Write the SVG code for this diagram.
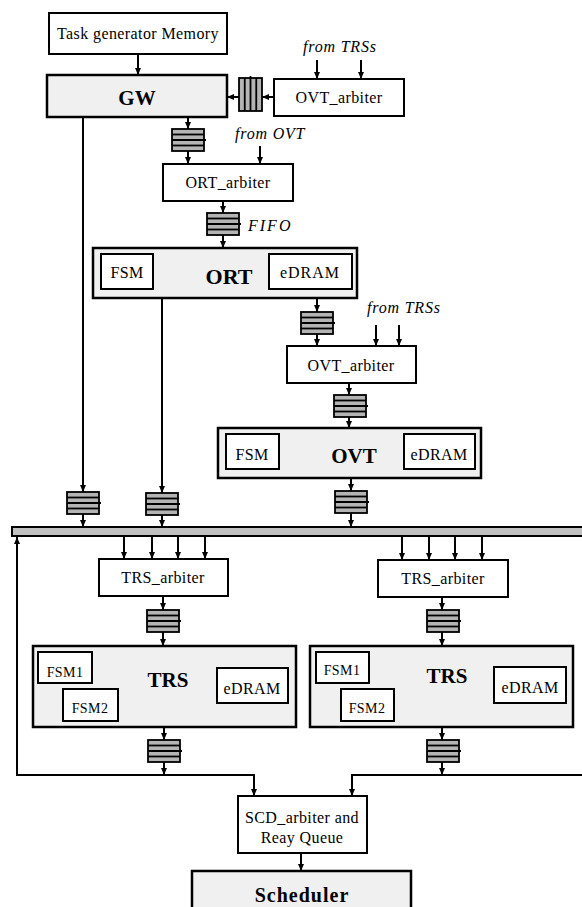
<svg xmlns="http://www.w3.org/2000/svg" xmlns:xlink="http://www.w3.org/1999/xlink" width="582" height="907" viewBox="0 0 582 907">
<style>
.box{fill:#fff;stroke:#000;stroke-width:2}
.big{fill:#f0f0f0;stroke:#000;stroke-width:2.5}
.t{font-family:"Liberation Serif","Times New Roman",serif;font-size:16px;fill:#000;text-anchor:middle;letter-spacing:0.4px}
.s{font-size:14px}
.b{font-weight:bold;font-size:21px;letter-spacing:0}
.i{font-style:italic;text-anchor:start;letter-spacing:0.8px}
.ln{fill:none;stroke:#000;stroke-width:2}
.ar{fill:none;stroke:#000;stroke-width:2;marker-end:url(#ah)}
.ff{fill:#b4b4b4;stroke:#000;stroke-width:1.8}
.fl{stroke:#000;stroke-width:1.8}
</style>
<defs>
<marker id="ah" markerUnits="userSpaceOnUse" markerWidth="7" markerHeight="7" refX="7" refY="3.5" orient="auto">
<path d="M0,0.5 L7,3.5 L0,6.5 z" fill="#000"/>
</marker>
<g id="fifoH">
<rect class="ff" x="0" y="0" width="32" height="22"/>
<line class="fl" x1="0" y1="5.5" x2="32" y2="5.5"/>
<line class="fl" x1="0" y1="11" x2="34" y2="11"/>
<line class="fl" x1="0" y1="16.5" x2="32" y2="16.5"/>
</g>
<g id="fifoV">
<rect class="ff" x="0" y="0" width="23" height="33"/>
<line class="fl" x1="5.75" y1="0" x2="5.75" y2="33"/>
<line class="fl" x1="11.5" y1="-2" x2="11.5" y2="33"/>
<line class="fl" x1="17.25" y1="0" x2="17.25" y2="33"/>
</g>
</defs>

<g id="connectors">
<line class="ar" x1="138" y1="54" x2="138" y2="75"/>
<line class="ar" x1="274" y1="97" x2="262" y2="97"/>
<line class="ar" x1="239" y1="97" x2="227" y2="97"/>
<line class="ar" x1="317" y1="60" x2="317" y2="79"/>
<line class="ar" x1="361" y1="60" x2="361" y2="79"/>
<line class="ar" x1="188" y1="117" x2="188" y2="129"/>
<line class="ar" x1="188" y1="151" x2="188" y2="164"/>
<line class="ar" x1="260" y1="146" x2="260" y2="164"/>
<line class="ar" x1="223" y1="201" x2="223" y2="213"/>
<line class="ar" x1="223" y1="235" x2="223" y2="248"/>
<line class="ar" x1="83" y1="117" x2="83" y2="492"/>
<line class="ar" x1="83" y1="513" x2="83" y2="527"/>
<line class="ar" x1="162" y1="298" x2="162" y2="493"/>
<line class="ar" x1="162" y1="514" x2="162" y2="527"/>
<line class="ar" x1="317" y1="298" x2="317" y2="312"/>
<line class="ar" x1="317" y1="334" x2="317" y2="346"/>
<line class="ar" x1="376" y1="325" x2="376" y2="346"/>
<line class="ar" x1="399" y1="325" x2="399" y2="346"/>
<line class="ar" x1="349" y1="383" x2="349" y2="395"/>
<line class="ar" x1="349" y1="417" x2="349" y2="428"/>
<line class="ar" x1="351" y1="479" x2="351" y2="491"/>
<line class="ar" x1="351" y1="513" x2="351" y2="527"/>
<line class="ar" x1="124" y1="536" x2="124" y2="559"/>
<line class="ar" x1="152" y1="536" x2="152" y2="559"/>
<line class="ar" x1="178" y1="536" x2="178" y2="559"/>
<line class="ar" x1="205" y1="536" x2="205" y2="559"/>
<line class="ar" x1="402" y1="536" x2="402" y2="560"/>
<line class="ar" x1="429" y1="536" x2="429" y2="560"/>
<line class="ar" x1="455" y1="536" x2="455" y2="560"/>
<line class="ar" x1="482" y1="536" x2="482" y2="560"/>
<line class="ar" x1="163" y1="596" x2="163" y2="610"/>
<line class="ar" x1="163" y1="632" x2="163" y2="646"/>
<line class="ar" x1="442" y1="597" x2="442" y2="610"/>
<line class="ar" x1="442" y1="632" x2="442" y2="646"/>
<line class="ar" x1="164" y1="727" x2="164" y2="740"/>
<line class="ar" x1="164" y1="762" x2="164" y2="775"/>
<line class="ar" x1="442" y1="727" x2="442" y2="740"/>
<line class="ar" x1="442" y1="762" x2="442" y2="775"/>
<polyline class="ar" points="254,775 17,775 17,537"/>
<polyline class="ar" points="17,775 254,775 254,796"/>
<polyline class="ar" points="582,775 352,775 352,796"/>
<line class="ar" x1="301" y1="853" x2="301" y2="871"/>
<use href="#fifoV" x="239" y="78"/>
<use href="#fifoH" x="172" y="129"/>
<use href="#fifoH" x="207" y="213"/>
<use href="#fifoH" x="67" y="492"/>
<use href="#fifoH" x="146" y="493"/>
<use href="#fifoH" x="301" y="312"/>
<use href="#fifoH" x="334" y="395"/>
<use href="#fifoH" x="335" y="491"/>
<use href="#fifoH" x="147" y="610"/>
<use href="#fifoH" x="427" y="610"/>
<use href="#fifoH" x="148" y="740"/>
<use href="#fifoH" x="427" y="740"/>
<rect x="12" y="527" width="580" height="9" fill="#c0c0c0" stroke="#000" stroke-width="2"/>
<text class="t i" x="303" y="52">from TRSs</text>
<text class="t i" x="235" y="139">from OVT</text>
<text class="t i" x="248" y="231" style="letter-spacing:2px">FIFO</text>
<text class="t i" x="367" y="313">from TRSs</text>
</g>

<g id="taskgen">
<rect class="box" x="49" y="13" width="178" height="41"/>
<text class="t" x="138" y="39">Task generator Memory</text>
</g>
<g id="gw">
<rect class="big" x="47" y="75" width="180" height="42"/>
<text class="t b" x="137" y="105">GW</text>
</g>
<g id="ovt_arbiter_top">
<rect class="box" x="274" y="79" width="130" height="37"/>
<text class="t" x="339" y="103">OVT_arbiter</text>
</g>
<g id="ort_arbiter">
<rect class="box" x="163" y="164" width="130" height="37"/>
<text class="t" x="228" y="188">ORT_arbiter</text>
</g>
<g id="ort">
<rect class="big" x="93" y="248" width="264" height="50"/>
<rect class="box" x="101" y="254" width="52" height="35"/>
<rect class="box" x="269" y="254" width="83" height="35"/>
<text class="t" x="127" y="278">FSM</text>
<text class="t" x="310" y="278" style="letter-spacing:1px">eDRAM</text>
<text class="t b" x="229" y="284" style="font-size:22px">ORT</text>
</g>
<g id="ovt_arbiter">
<rect class="box" x="287" y="346" width="129" height="37"/>
<text class="t" x="351" y="371">OVT_arbiter</text>
</g>
<g id="ovt">
<rect class="big" x="218" y="428" width="263" height="50"/>
<rect class="box" x="226" y="434" width="53" height="35"/>
<rect class="box" x="404" y="434" width="71" height="35"/>
<text class="t" x="252" y="460">FSM</text>
<text class="t" x="439" y="460">eDRAM</text>
<text class="t b" x="354" y="463">OVT</text>
</g>
<g id="trs_arbiter_l">
<rect class="box" x="99" y="559" width="129" height="37"/>
<text class="t" x="163" y="583">TRS_arbiter</text>
</g>
<g id="trs_arbiter_r">
<rect class="box" x="378" y="560" width="130" height="37"/>
<text class="t" x="443" y="584">TRS_arbiter</text>
</g>
<g id="trs_l">
<rect class="big" x="33" y="646" width="263" height="81"/>
<rect class="box" x="38" y="652" width="54" height="31"/>
<rect class="box" x="63" y="689" width="55" height="32"/>
<rect class="box" x="217" y="668" width="71" height="35"/>
<text class="t s" x="65" y="677">FSM1</text>
<text class="t s" x="90" y="713">FSM2</text>
<text class="t" x="252" y="694">eDRAM</text>
<text class="t b" x="168" y="687">TRS</text>
</g>
<g id="trs_r">
<rect class="big" x="310" y="646" width="263" height="81"/>
<rect class="box" x="316" y="652" width="53" height="31"/>
<rect class="box" x="341" y="689" width="53" height="32"/>
<rect class="box" x="494" y="667" width="72" height="36"/>
<text class="t s" x="342" y="675">FSM1</text>
<text class="t s" x="367" y="713">FSM2</text>
<text class="t" x="530" y="693">eDRAM</text>
<text class="t b" x="447" y="683">TRS</text>
</g>
<g id="scd_arbiter">
<rect class="box" x="238" y="796" width="129" height="57"/>
<text class="t" x="302" y="823">SCD_arbiter and</text>
<text class="t" x="302" y="843">Reay Queue</text>
</g>
<g id="scheduler">
<rect class="big" x="192" y="871" width="219" height="45"/>
<text class="t b" x="302" y="902" style="font-size:20px;letter-spacing:1px">Scheduler</text>
</g>
</svg>
